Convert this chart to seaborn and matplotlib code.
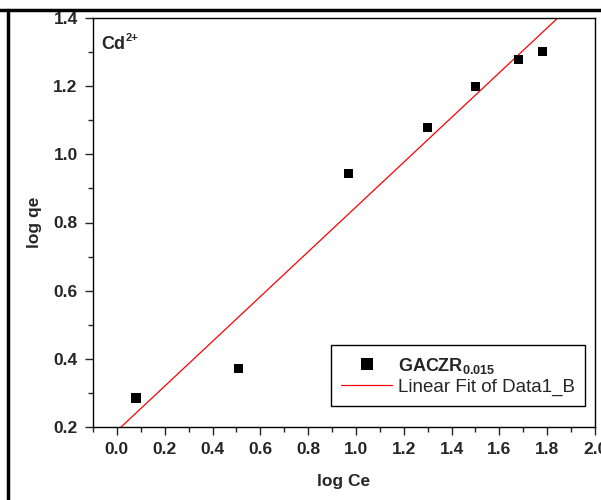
import numpy as np
import pandas as pd
import matplotlib
matplotlib.use("Agg")
import matplotlib.pyplot as plt
from matplotlib.lines import Line2D
from matplotlib.ticker import MultipleLocator
import seaborn as sns

# Freundlich isotherm data for Cd2+ on GACZR(0.015)
log_ce = [0.08, 0.51, 0.97, 1.30, 1.50, 1.68, 1.78]
log_qe = [0.285, 0.372, 0.943, 1.078, 1.200, 1.278, 1.301]
x_ticks = [0.0, 0.2, 0.4, 0.6, 0.8, 1.0, 1.2, 1.4, 1.6, 1.8, 2.0]
y_ticks = [0.2, 0.4, 0.6, 0.8, 1.0, 1.2, 1.4]

df = pd.DataFrame({"log Ce": log_ce, "log qe": log_qe})

sns.set_style("ticks")
plt.rcParams["font.family"] = ["Liberation Sans", "DejaVu Sans"]
plt.rcParams["mathtext.default"] = "regular"

fig = plt.figure(figsize=(6.01, 5.0), dpi=100)
ax = fig.add_axes([93 / 601, 73 / 500, 502 / 601, 409 / 500])

ax.set_xlim(-0.1, 2.0)
ax.set_ylim(0.2, 1.4)

sns.scatterplot(data=df, x="log Ce", y="log qe", marker="s", s=45,
                color="black", edgecolor="none", ax=ax, legend=False,
                zorder=3)
sns.regplot(data=df, x="log Ce", y="log qe", scatter=False, ci=None,
            truncate=False, ax=ax, line_kws=dict(color="red", lw=0.9))

ax.set_xlim(-0.1, 2.0)
ax.set_ylim(0.2, 1.4)
ax.set_xticks(x_ticks)
ax.set_yticks(y_ticks)
ax.set_xticklabels([f"{v:.1f}" for v in x_ticks])
ax.set_yticklabels([f"{v:.1f}" for v in y_ticks])
ax.xaxis.set_minor_locator(MultipleLocator(0.1))
ax.yaxis.set_minor_locator(MultipleLocator(0.1))
ax.tick_params(which="major", direction="out", length=6, width=1,
               labelsize=12.5, pad=5)
ax.tick_params(which="minor", direction="out", length=3.5, width=1)
ax.tick_params(top=False, right=False, which="both")
for lab in ax.get_xticklabels() + ax.get_yticklabels():
    lab.set_fontweight("bold")
for sp in ax.spines.values():
    sp.set_visible(True)
    sp.set_linewidth(1.0)
    sp.set_color("black")

ax.set_xlabel("log Ce", fontsize=12.5, fontweight="bold", labelpad=12)
ax.set_ylabel("log qe", fontsize=12.5, fontweight="bold", labelpad=8)

cd = ax.text(0.017, 0.935, "Cd", transform=ax.transAxes, fontsize=13,
             fontweight="bold", ha="left", va="center")
ax.annotate("2+", xy=(1.0, 0.62), xycoords=cd, fontsize=8,
            fontweight="bold", ha="left", va="bottom")

handles = [
    Line2D([], [], marker="s", ls="none", color="black", ms=8.5, mew=0),
    Line2D([], [], color="red", lw=0.9),
]
labels = [r"GACZR$_{0.015}$", "Linear Fit of Data1_B"]
leg = ax.legend(handles, labels, loc="lower right",
                bbox_to_anchor=(0.980, 0.051),
                fontsize=13.5, frameon=True, fancybox=False, framealpha=1,
                edgecolor="black", handlelength=2.7, handletextpad=0.3,
                borderpad=0.55, labelspacing=0.15, borderaxespad=0)
leg.get_frame().set_linewidth(1.0)
leg.get_texts()[0].set_fontweight("bold")
leg.get_texts()[0].set_fontsize(13)

# outer frame lines
fig.add_artist(Line2D([0, 1], [1 - 9.5 / 500, 1 - 9.5 / 500],
                      transform=fig.transFigure, color="black", lw=2.5))
fig.add_artist(Line2D([7.5 / 601, 7.5 / 601], [0, 1 - 9.5 / 500],
                      transform=fig.transFigure, color="black", lw=2.5))

fig.savefig("out.png", dpi=100)
